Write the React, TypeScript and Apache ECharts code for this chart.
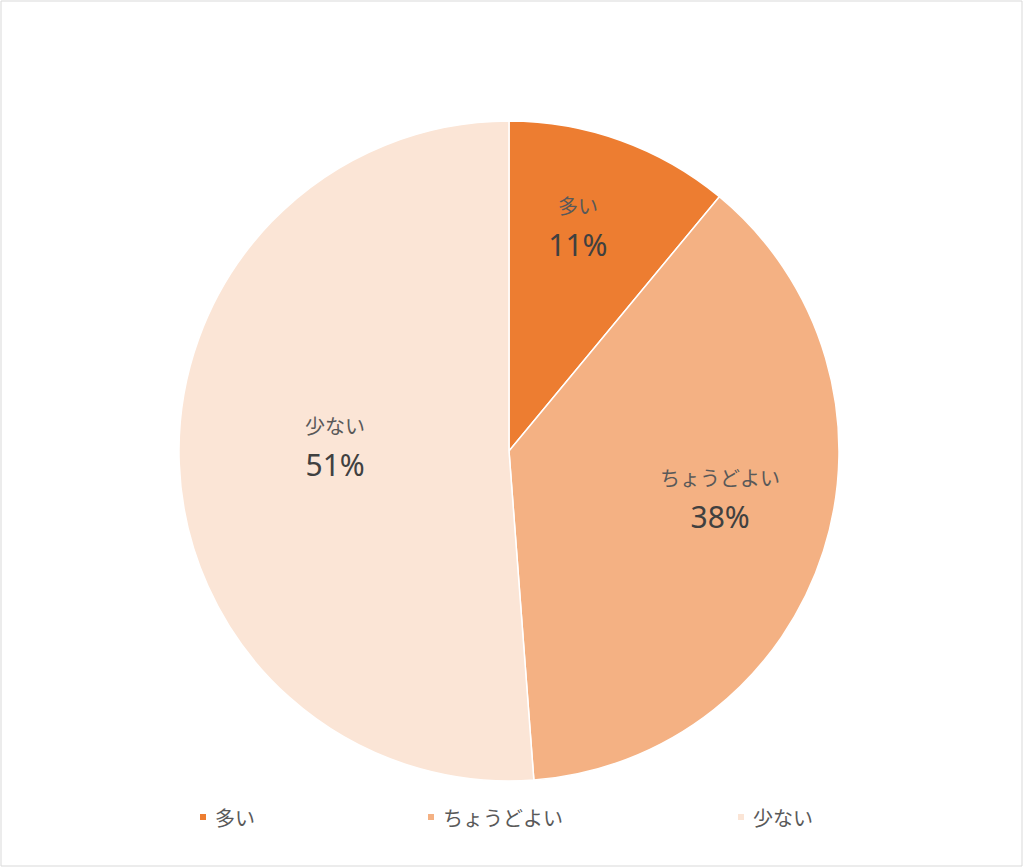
import { useEffect, useRef } from "react";
import * as echarts from "echarts";

const categories = ["多い", "ちょうどよい", "少ない"];
const values = [11.0, 37.8, 51.2];
const colors = ["#ED7D31", "#F4B183", "#FBE5D6"];

// nudges for the labels, to sit where the spreadsheet put them
const labelShift = [
    [12, -66],
    [51, -3],
    [-6, -11],
];

const legendLeft = [193, 421, 731];

const jp = "'Noto Sans CJK JP', 'Noto Sans', sans-serif";

const App = () => {
    const chartRef = useRef<HTMLDivElement>(null);

    useEffect(() => {
        if (!chartRef.current) return;
        const chart = echarts.init(chartRef.current, null, { renderer: "svg" });

        const options = {
            animation: false,
            backgroundColor: "#ffffff",
            graphic: [
                {
                    type: "rect",
                    shape: { x: 1, y: 1, width: 1021, height: 865 },
                    style: { fill: "none", stroke: "#d9d9d9", lineWidth: 1 },
                    silent: true,
                },
            ],
            legend: categories.map((name, i) => ({
                data: [name],
                left: legendLeft[i],
                top: 802,
                icon: "rect",
                itemWidth: 8,
                itemHeight: 8,
                itemGap: 0,
                textStyle: { fontFamily: jp, fontSize: 20, color: "#595959", padding: [0, 0, 0, 3] },
                selectedMode: false,
            })),
            series: [
                {
                    type: "pie",
                    center: [509, 451],
                    radius: [0, 330],
                    startAngle: 90,
                    clockwise: true,
                    itemStyle: { borderColor: "#ffffff", borderWidth: 1.5 },
                    emphasis: { disabled: true },
                    label: {
                        show: true,
                        position: "inside",
                        formatter: (p: any) => `{n|${p.name}}\n{v|${Math.round(p.percent)}%}`,
                        rich: {
                            n: { fontFamily: jp, fontSize: 20, color: "#595959", lineHeight: 36, align: "center" },
                            v: { fontFamily: "'Noto Sans', sans-serif", fontSize: 30, color: "#404040", lineHeight: 42, align: "center" },
                        },
                    },
                    labelLayout: (p: any) => ({
                        dx: labelShift[p.dataIndex][0],
                        dy: labelShift[p.dataIndex][1],
                    }),
                    data: categories.map((name, i) => ({
                        name,
                        value: values[i],
                        itemStyle: { color: colors[i] },
                    })),
                },
            ],
        };

        chart.setOption(options);

        return () => {
            chart.dispose();
        };
    }, []);

    return (
        <div
            ref={chartRef}
            style={{ position: "absolute", left: 0, top: 0, width: "1024px", height: "868px" }}
        />
    );
};

export default App;
